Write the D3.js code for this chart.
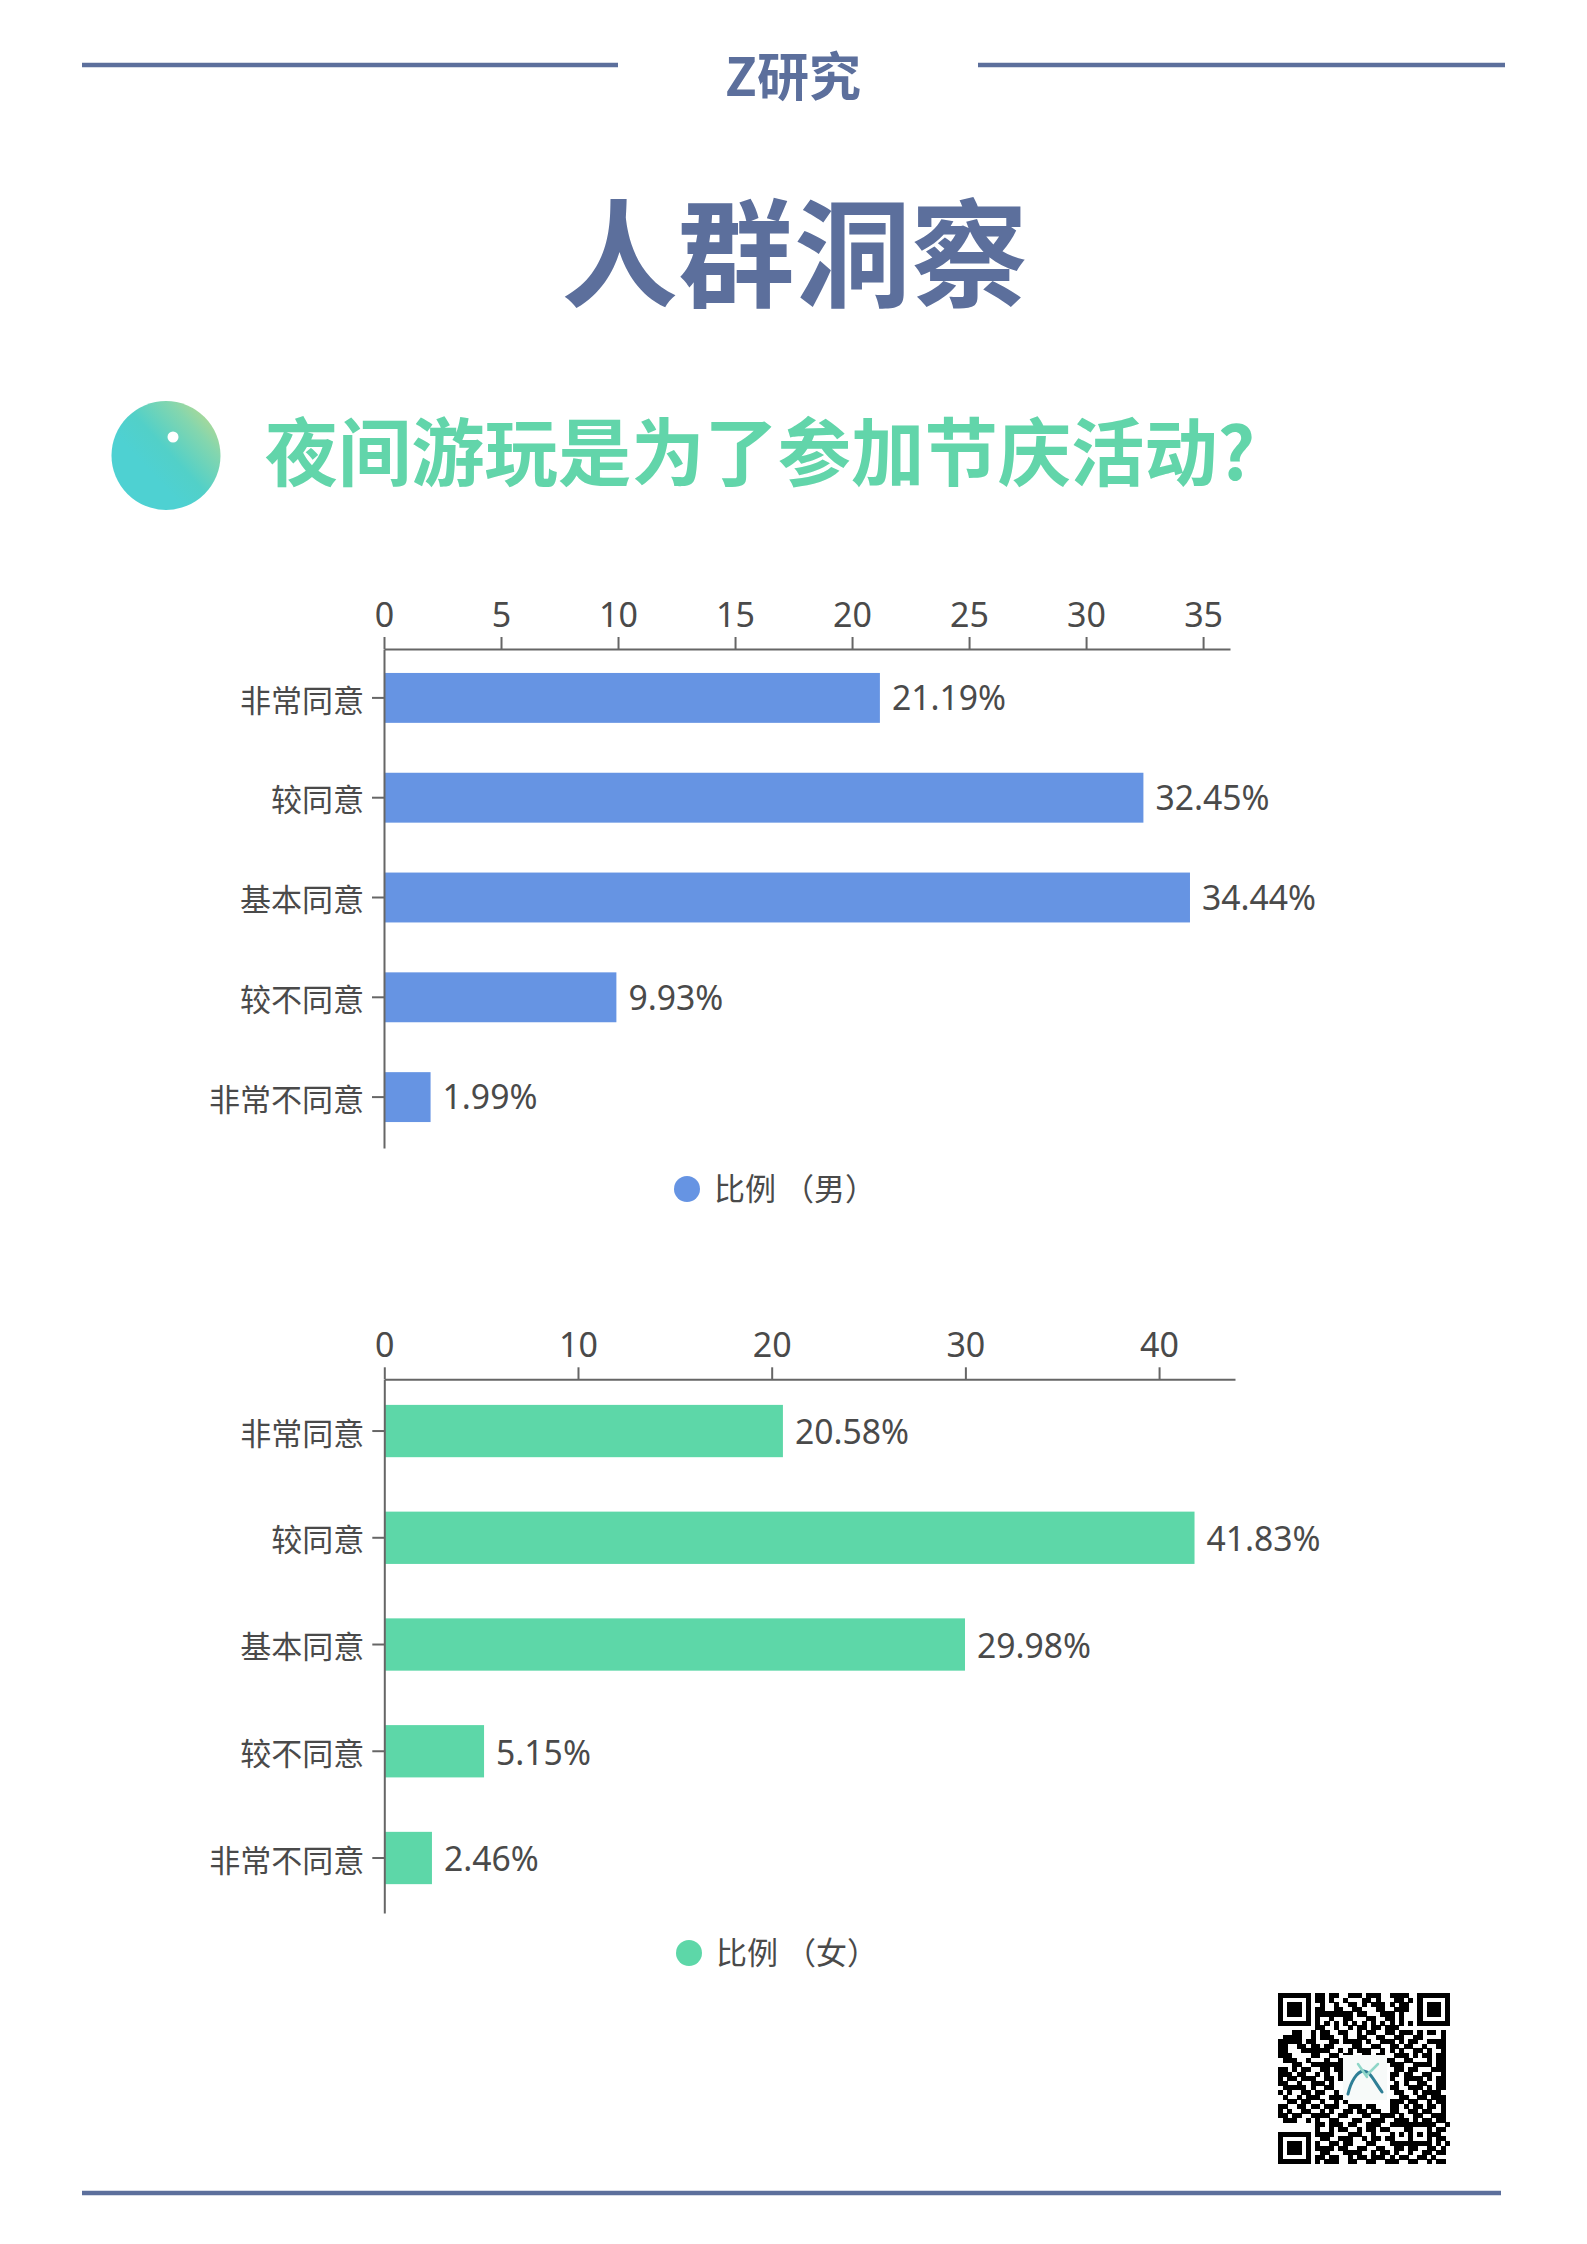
<!DOCTYPE html>
<html lang="zh">
<head>
<meta charset="utf-8">
<script src="https://cdnjs.cloudflare.com/ajax/libs/d3/7.8.5/d3.min.js"></script>
<style>
html,body{margin:0;padding:0;background:#fff}
svg{display:block}
text{font-family:"Noto Sans CJK SC",sans-serif}
</style>
</head>
<body>
<svg id="c" width="1587" height="2244" xmlns="http://www.w3.org/2000/svg"></svg>
<script>
const categories = ["非常同意","较同意","基本同意","较不同意","非常不同意"];
const maleValues = [21.19,32.45,34.44,9.93,1.99];
const femaleValues = [20.58,41.83,29.98,5.15,2.46];
const maleTicks = [0,5,10,15,20,25,30,35];
const femaleTicks = [0,10,20,30,40];
const brandText = "Z研究";
const titleText = "人群洞察";
const questionText = "夜间游玩是为了参加节庆活动?";
const maleLegend = "比例 （男）";
const femaleLegend = "比例 （女）";
const qrRows = [
"1111111 01101100111011100111100 1111111",
"1000001 01101001000110100011010 1000001",
"1011101 00100100110101110101100 1011101",
"1011101 01100110011000110011100 1011101",
"1011101 01111111101100011101000 1011101",
"1000001 01001001100011001101000 1000001",
"1111111 01010101010101010101010 1111111",
"0000000011001001011011011100000000000",
"0001100101100110010110011011101011010",
"0111100101110010011001100110011000010",
"1111101100011011110100111010110011110",
"1100110110110000110011001101100100110",
"1100011111100101011100101010011010010",
"1110000110011011001101100111010110110",
"0111001000100110000110011001100010110",
"0001100111111100000000001110011110110",
"1101011001101100000000000110110001110",
"1110110010100100000000001101100110010",
"1011011100110100000000001001111010110",
"1100100111010010000000000101001100110",
"0111110100110000000000001100111010110",
"1010011011001010000000000110010111100",
"0100101110011100000000000011001101110",
"0011011001001010000000001110110010110",
"1100110110111001110110001101011011010",
"1010011001010011011011001100110110010",
"1101100111100110001100111010011001110",
"0111001010011000110011100111010110110",
"0000000011011101100111001111 11111 1001",
"00000000 10010110010110110001 10001 0110",
"1111111 0 11110001110010001010 10101 1100",
"1000001 0 01100111001011011000 10001 0110",
"1011101 0 10011011000110001111 11111 0101",
"1011101 0 11110110011001100110110011010",
"1011101 0 01100011110010110100100110110",
"1000001 0 11011001011011101011001101000",
"1111111 0 10111001100110011100110010110"
].map(r => r.replace(/ /g,""));

const INK = "#5c6f9c", MINT = "#62d5aa", BLUE = "#6694e3", GREEN = "#5dd7a8", TXT = "#4a4a4a", AXIS = "#666666";
const NUM = '"Noto Sans","Noto Sans CJK SC",sans-serif';
const svg = d3.select("#c");
svg.append("rect").attr("width",1587).attr("height",2244).attr("fill","#fff");

// header and footer rules
[[82,618,65],[978,1505,65],[82,1501,2193]].forEach(([a,b,y]) =>
  svg.append("line").attr("x1",a).attr("x2",b).attr("y1",y).attr("y2",y).attr("stroke",INK).attr("stroke-width",4.5));

function heading(t,x,y,size,fill,w){
  return svg.append("text").text(t).attr("x",x).attr("y",y).attr("text-anchor","middle")
    .attr("font-size",size).attr("font-weight",w).attr("fill",fill);
}
heading(brandText,793,95.5,52,INK,700);
heading(titleText,794.5,297.5,116.5,INK,700);
heading(questionText,760,479.5,73.3,MINT,700);

// gradient disc
const defs = svg.append("defs");
const g = defs.append("linearGradient").attr("id","disc").attr("x1","1").attr("y1","0.15").attr("x2","0.4").attr("y2","0.7");
[[0,"#b9d98f"],[0.3,"#84d6ae"],[0.7,"#52d0c8"],[1,"#4ed1d2"]].forEach(([o,c])=>g.append("stop").attr("offset",o).attr("stop-color",c));
svg.append("circle").attr("cx",166).attr("cy",455.5).attr("r",54.5).attr("fill","url(#disc)");
svg.append("circle").attr("cx",173).attr("cy",437).attr("r",5.5).attr("fill","#fff");

function chart(o){
  const x = d3.scaleLinear().domain([0,o.max]).range([o.x0,o.x1]);
  const y = d3.scaleBand().domain(categories).range([o.y0,o.y1]).paddingInner(o.pi).paddingOuter(o.po).align(o.align);
  const root = svg.append("g");

  root.selectAll("rect.bar").data(o.values).join("rect").attr("class","bar")
    .attr("x",x(0)).attr("y",(d,i)=>y(categories[i]))
    .attr("width",d=>x(d)-x(0)).attr("height",y.bandwidth()).attr("fill",o.color);

  const ax = root.append("g").attr("transform",`translate(0,${o.y0})`)
    .call(d3.axisTop(x).tickValues(o.ticks).tickFormat(d3.format("d")).tickSize(12).tickSizeOuter(0).tickPadding(10));
  ax.selectAll("text").attr("font-size",34).attr("fill",TXT).style("font-family",NUM);
  const ay = root.append("g").attr("transform",`translate(${o.x0},0)`)
    .call(d3.axisLeft(y).tickSize(12).tickSizeOuter(0).tickPadding(8));
  ay.selectAll("text").attr("font-size",31).attr("fill",TXT).attr("dy","0.44em");
  root.selectAll(".domain,.tick line").attr("stroke",AXIS).attr("stroke-width",2);

  root.selectAll("text.val").data(o.values).join("text").attr("class","val")
    .attr("x",d=>x(d)+12).attr("y",(d,i)=>y(categories[i])+y.bandwidth()/2+o.valShift).attr("dy","0.35em")
    .attr("font-size",33.7).attr("fill",TXT).style("font-family",NUM).text(d=>d.toFixed(2)+"%");

  root.append("circle").attr("cx",o.lx).attr("cy",o.ly).attr("r",13).attr("fill",o.color);
  root.append("text").attr("x",o.lx+27).attr("y",o.ly+11).attr("font-size",31).attr("fill",TXT)
    .attr("xml:space","preserve").text(o.legend);
}

chart({values:maleValues,ticks:maleTicks,color:BLUE,max:36.15,x0:384,x1:1230,y0:649,y1:1148,pi:.5,po:.25,align:.48,valShift:0.5,lx:687,ly:1189,legend:maleLegend});
chart({values:femaleValues,ticks:femaleTicks,color:GREEN,max:43.92,x0:384.3,x1:1235,y0:1379.3,y1:1913,pi:.51,po:.255,align:.47,valShift:1.5,lx:689,ly:1953,legend:femaleLegend});

// QR code from its module rows
const n = qrRows.length;
const qx = d3.scaleBand().domain(d3.range(n)).range([1278,1450]);
const qy = d3.scaleBand().domain(d3.range(n)).range([1993,2164]);
const qr = svg.append("g").attr("shape-rendering","crispEdges");
qrRows.forEach((row,r)=>{
  qr.selectAll(null).data(row.split("").map((v,c)=>({v,c})).filter(d=>d.v==="1")).join("rect")
    .attr("x",d=>qx(d.c)).attr("y",qy(r)).attr("width",qx.bandwidth()+.4).attr("height",qy.bandwidth()+.4).attr("fill","#000");
});
const logo = svg.append("g").attr("transform","translate(1365,2077)").attr("fill","none").attr("stroke-linecap","round");
logo.append("rect").attr("x",-22).attr("y",-22).attr("width",44).attr("height",45).attr("fill","#f7faf9");
logo.append("path").attr("d","M-17,17 C-14,4 -8,-5 -2,-6 C4,-7 8,2 17,15").attr("stroke","#2f7f96").attr("stroke-width",3);
logo.append("path").attr("d","M-7,-13 L2,0 M13,-13 L3,-3").attr("stroke","#8fd6c8").attr("stroke-width",2.5);
</script>
</body>
</html>
